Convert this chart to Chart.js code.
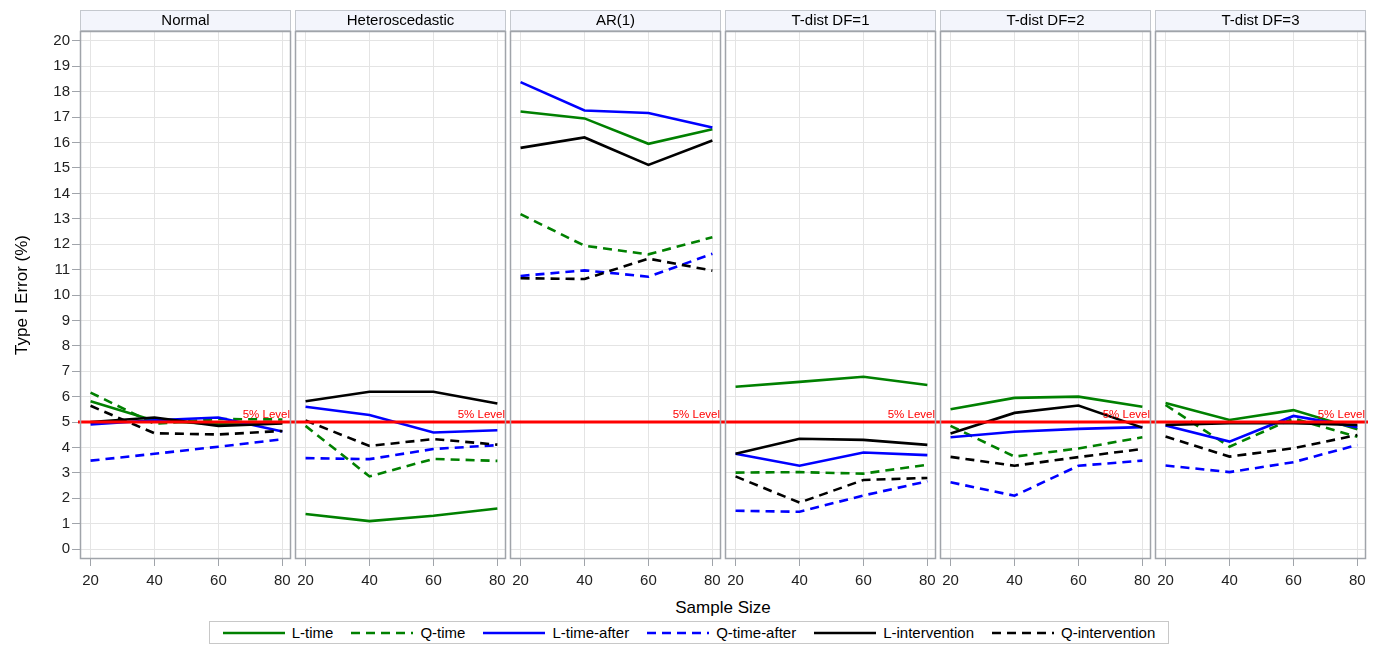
<!DOCTYPE html>
<html>
<head>
<meta charset="utf-8">
<script src="https://cdn.jsdelivr.net/npm/chart.js@4/dist/chart.umd.min.js"></script>
<style>
  body { margin: 0; background: #fff; font-family: Arial, "Liberation Sans", sans-serif; }
  #wrap { position: relative; width: 1380px; height: 645px; }
  #wrap canvas { position: absolute; top: 8px; }
  #xtitle { position: absolute; left: 0; width: 1446px; top: 598px; text-align: center; font-size: 17px; color: #000; }
  #legend { position: absolute; left: 209px; top: 621px; width: 958px; height: 21px; border: 1px solid #c8c8c8;
            display: flex; align-items: center; justify-content: center; font-size: 15px; color: #000; }
  #legend .item { display: flex; align-items: center; margin: 0 9px; }
  #legend svg { margin-right: 7px; }
</style>
</head>
<body>
<div id="wrap">
  <div id="xtitle">Sample Size</div>
  <div id="legend"></div>
</div>
<script>
// facets and x values
const panels = ["Normal", "Heteroscedastic", "AR(1)", "T-dist DF=1", "T-dist DF=2", "T-dist DF=3"];
const sampleSizes = [20, 40, 60, 80];
const yTicks = [0, 1, 2, 3, 4, 5, 6, 7, 8, 9, 10, 11, 12, 13, 14, 15, 16, 17, 18, 19, 20];
const refLevel = 5;

// type I error (%) per panel, one row per facet
const lTime = [
  [5.82, 5.05, 4.92, 4.97], [1.38, 1.10, 1.31, 1.60], [17.22, 16.95, 15.95, 16.52],
  [6.39, 6.58, 6.78, 6.46], [5.50, 5.95, 6.00, 5.60], [5.75, 5.08, 5.47, 4.72]
];
const qTime = [
  [6.16, 4.93, 5.12, 5.10], [4.85, 2.86, 3.55, 3.47], [13.18, 11.94, 11.60, 12.27],
  [3.01, 3.03, 2.97, 3.32], [4.85, 3.64, 3.96, 4.40], [5.67, 4.03, 5.14, 4.42]
];
const lTimeAfter = [
  [4.91, 5.07, 5.18, 4.63], [5.60, 5.28, 4.59, 4.68], [18.38, 17.26, 17.16, 16.59],
  [3.75, 3.28, 3.80, 3.70], [4.40, 4.62, 4.73, 4.80], [4.86, 4.23, 5.24, 4.80]
];
const qTimeAfter = [
  [3.48, 3.75, 4.03, 4.32], [3.58, 3.54, 3.94, 4.09], [10.75, 10.97, 10.72, 11.62],
  [1.51, 1.47, 2.11, 2.67], [2.63, 2.10, 3.28, 3.48], [3.29, 3.03, 3.42, 4.10]
];
const lIntervention = [
  [5.00, 5.18, 4.85, 4.94], [5.82, 6.19, 6.19, 5.73], [15.79, 16.20, 15.12, 16.08],
  [3.75, 4.34, 4.30, 4.10], [4.55, 5.36, 5.65, 4.78], [4.89, 4.95, 4.95, 4.89]
];
const qIntervention = [
  [5.64, 4.56, 4.51, 4.65], [5.06, 4.06, 4.33, 4.11], [10.66, 10.63, 11.43, 10.96],
  [2.86, 1.83, 2.72, 2.80], [3.63, 3.28, 3.62, 3.94], [4.43, 3.64, 3.97, 4.49]
];

const series = [
  { label: "L-time", values: lTime, color: "#008000", dash: [] },
  { label: "Q-time", values: qTime, color: "#008000", dash: [9, 6] },
  { label: "L-time-after", values: lTimeAfter, color: "#0000ff", dash: [] },
  { label: "Q-time-after", values: qTimeAfter, color: "#0000ff", dash: [9, 6] },
  { label: "L-intervention", values: lIntervention, color: "#000000", dash: [] },
  { label: "Q-intervention", values: qIntervention, color: "#000000", dash: [9, 6] }
];

const FONT = "Arial, 'Liberation Sans', sans-serif";
const PANEL_LEFT = 80, PANEL_STEP = 215, PANEL_W = 211;
const CANVAS_H = 590, PAD_TOP = 23, X_AXIS_H = 39;
const frameColor = "#a0a4aa";

// header strip, panel frame and the 5% reference line
const facetPlugin = {
  id: "facet",
  beforeDraw(chart, args, opts) {
    const { ctx, chartArea: a } = chart;
    ctx.save();
    ctx.fillStyle = "#f3f5fc";
    ctx.fillRect(a.left, a.top - 21, a.right - a.left, 21);
    ctx.strokeStyle = "#c4c8ce";
    ctx.lineWidth = 1;
    ctx.strokeRect(a.left + 0.5, a.top - 20.5, a.right - a.left - 1, 20);
    ctx.fillStyle = "#000";
    ctx.font = "15px " + FONT;
    ctx.textAlign = "center";
    ctx.textBaseline = "middle";
    ctx.fillText(opts.title, (a.left + a.right) / 2, a.top - 10);
    ctx.restore();
  },
  afterDatasetsDraw(chart) {
    const { ctx, chartArea: a, scales } = chart;
    const y = scales.y.getPixelForValue(refLevel);
    ctx.save();
    ctx.strokeStyle = "#ff0000";
    ctx.lineWidth = 3;
    ctx.beginPath();
    ctx.moveTo(a.left - 2, y);
    ctx.lineTo(a.right + 2, y);
    ctx.stroke();
    ctx.fillStyle = "#ff0000";
    ctx.font = "11.5px " + FONT;
    ctx.textAlign = "right";
    ctx.textBaseline = "alphabetic";
    ctx.fillText("5% Level", a.right - 1, y - 4);
    ctx.restore();
  },
  afterDraw(chart) {
    const { ctx, chartArea: a } = chart;
    ctx.save();
    ctx.strokeStyle = frameColor;
    ctx.lineWidth = 1.5;
    ctx.strokeRect(a.left + 0.5, a.top + 0.5, a.right - a.left - 1, a.bottom - a.top - 1);
    ctx.restore();
  }
};

const wrap = document.getElementById("wrap");

panels.forEach((name, p) => {
  const first = p === 0;
  const yw = first ? PANEL_LEFT : 0;
  const left = first ? 0 : PANEL_LEFT + p * PANEL_STEP - 2;
  const width = (first ? PANEL_LEFT : 2) + PANEL_W + 2;

  const canvas = document.createElement("canvas");
  canvas.width = width;
  canvas.height = CANVAS_H;
  canvas.style.left = left + "px";
  canvas.style.width = width + "px";
  canvas.style.height = CANVAS_H + "px";
  wrap.appendChild(canvas);

  new Chart(canvas.getContext("2d"), {
    type: "line",
    data: {
      datasets: series.map((s, i) => ({
        label: s.label,
        data: sampleSizes.map((x, k) => ({ x, y: s.values[p][k] })),
        borderColor: s.color,
        borderDash: s.dash,
        borderWidth: 2.6,
        pointRadius: 0,
        tension: 0,
        fill: false,
        order: -i
      }))
    },
    options: {
      responsive: false,
      animation: false,
      events: [],
      layout: { padding: { top: PAD_TOP, left: first ? 0 : 2, right: 2, bottom: 0 } },
      plugins: {
        legend: { display: false },
        tooltip: { enabled: false },
        facet: { title: name }
      },
      scales: {
        x: {
          type: "linear",
          min: 16.7,
          max: 82.7,
          afterBuildTicks: (s) => { s.ticks = sampleSizes.map((v) => ({ value: v })); },
          afterFit: (s) => { s.height = X_AXIS_H; s.paddingLeft = 0; s.paddingRight = 0; },
          grid: { color: "#e4e4e4", lineWidth: 1, tickColor: frameColor, tickLength: 7 },
          border: { display: false },
          ticks: { color: "#222", font: { size: 15, family: FONT }, padding: 6, maxRotation: 0 }
        },
        y: {
          min: -0.39,
          max: 20.39,
          afterBuildTicks: (s) => { s.ticks = yTicks.map((v) => ({ value: v })); },
          afterFit: (s) => { s.width = yw; s.paddingTop = 0; s.paddingBottom = 0; },
          grid: { color: "#e4e4e4", lineWidth: 1, tickColor: frameColor, tickLength: 8, drawTicks: first },
          border: { display: false },
          ticks: { display: first, color: "#222", font: { size: 15, family: FONT }, padding: 2 },
          title: {
            display: first,
            text: "Type I Error (%)",
            color: "#000",
            font: { size: 17, family: FONT },
            padding: { top: 12, bottom: 0 }
          }
        }
      }
    },
    plugins: [facetPlugin]
  });
});

// legend row below the facets
const legend = document.getElementById("legend");
series.forEach((s) => {
  const item = document.createElement("div");
  item.className = "item";
  const dash = s.dash.length ? ' stroke-dasharray="' + s.dash.join(" ") + '"' : "";
  item.innerHTML =
    '<svg width="62" height="6"><line x1="0" y1="3" x2="62" y2="3" stroke="' + s.color +
    '" stroke-width="2.6"' + dash + "/></svg><span>" + s.label + "</span>";
  legend.appendChild(item);
});
</script>
</body>
</html>
